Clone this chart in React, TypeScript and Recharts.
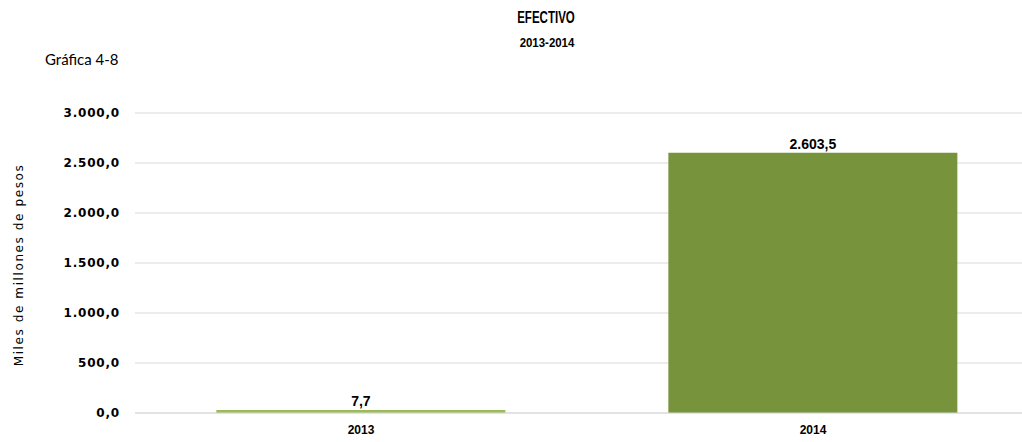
import { Bar, BarChart, CartesianGrid, Cell, LabelList, XAxis, YAxis } from "recharts";

const years = ["2013", "2014"];
const efectivo = [7.7, 2603.5];
const barColors = ["#9bbb59", "#77933c"];
const yTicks = [0, 500, 1000, 1500, 2000, 2500, 3000];

// 2603.5 -> "2.603,5"
function fmt(v: number) {
  const [ent, dec] = v.toFixed(1).split(".");
  return ent.replace(/\B(?=(\d{3})+(?!\d))/g, ".") + "," + dec;
}

const data = years.map((y, i) => ({ year: y, value: efectivo[i] }));

const boldFont = "'Liberation Sans', Arial, sans-serif";

export default function App() {
  return (
    <div
      style={{
        position: "absolute",
        left: 0,
        top: 0,
        width: 1022,
        height: 442,
        overflow: "hidden",
        background: "#fff",
      }}
    >
      <div
        style={{
          position: "absolute",
          left: 0,
          width: 1092,
          top: 9,
          textAlign: "center",
          fontFamily: boldFont,
          fontWeight: 700,
          fontSize: 16,
          color: "#000",
          transform: "scaleX(0.72)",
        }}
      >
        EFECTIVO
      </div>
      <div
        style={{
          position: "absolute",
          left: 0,
          width: 1094,
          top: 35,
          textAlign: "center",
          fontFamily: boldFont,
          fontWeight: 700,
          fontSize: 13,
          color: "#000",
          transform: "scaleX(0.88)",
        }}
      >
        2013-2014
      </div>
      <div
        style={{
          position: "absolute",
          left: 45,
          top: 50,
          fontFamily: "Lato, sans-serif",
          fontSize: 15,
          color: "#000",
        }}
      >
        Gráfica 4-8
      </div>
      <BarChart
        width={1040}
        height={442}
        data={data}
        margin={{ top: 113, right: 1, left: 0, bottom: 0 }}
        barCategoryGap="18%"
      >
        <CartesianGrid vertical={false} stroke="#d9d9d9" />
        <XAxis
          dataKey="year"
          height={29}
          axisLine={{ stroke: "#d9d9d9" }}
          tickLine={false}
          tickSize={0}
          tickMargin={12}
          tick={{ fontSize: 12, fontWeight: 700, fill: "#000", fontFamily: boldFont }}
        />
        <YAxis
          width={135}
          domain={[0, 3000]}
          ticks={yTicks}
          tickFormatter={fmt}
          axisLine={false}
          tickLine={false}
          tickSize={0}
          tickMargin={15}
          tick={{
            fontSize: 12,
            fontWeight: 700,
            fill: "#000",
            fontFamily: "'DejaVu Sans', sans-serif",
            letterSpacing: 0.8,
          }}
          label={{
            value: "Miles de millones de pesos",
            angle: -90,
            position: "insideLeft",
            offset: 19,
            dy: 2,
            style: {
              fontSize: 12,
              fill: "#000",
              fontFamily: "'DejaVu Sans', sans-serif",
              textAnchor: "middle",
              letterSpacing: 1.6,
            },
          }}
        />
        <Bar dataKey="value" isAnimationActive={false} minPointSize={3}>
          {data.map((d, i) => (
            <Cell key={d.year} fill={barColors[i]} />
          ))}
          <LabelList
            dataKey="value"
            position="top"
            offset={4}
            formatter={(v: number) => fmt(v)}
            style={{ fontSize: 14, fontWeight: 700, fill: "#000", fontFamily: boldFont }}
          />
        </Bar>
      </BarChart>
    </div>
  );
}
